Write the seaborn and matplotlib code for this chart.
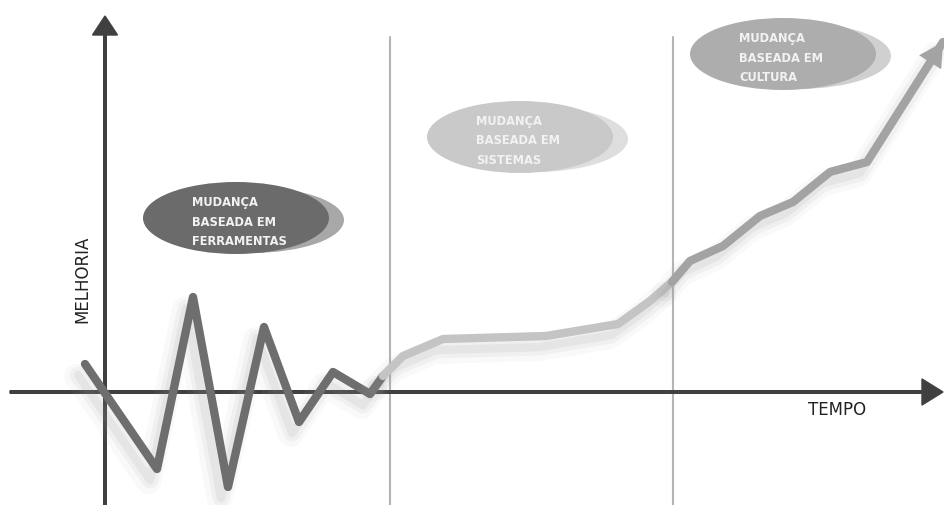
import matplotlib
matplotlib.use("Agg")
import matplotlib.pyplot as plt
import matplotlib.patheffects as pe
from matplotlib.patches import Ellipse
import seaborn as sns
import pandas as pd

# ---- data (time vs. improvement, origin at axes crossing) ----
ferramentas_t = [-20, 52, 88, 123, 159, 194, 228, 265, 278]
ferramentas_m = [28, -77, 95, -95, 65, -30, 20, -2, 16]

sistemas_t = [278, 298, 338, 441, 513, 545, 567]
sistemas_m = [16, 36, 53, 56, 68, 91, 110]

cultura_t = [567, 585, 618, 655, 688, 725, 762, 838]
cultura_m = [110, 131, 146, 176, 190, 220, 230, 350]

phase_bounds = [285, 568]

bubble_labels = ["MUDANÇA\nBASEADA EM\nFERRAMENTAS",
                 "MUDANÇA\nBASEADA EM\nSISTEMAS",
                 "MUDANÇA\nBASEADA EM\nCULTURA"]
bubble_t = [131, 415, 678]
bubble_m = [174, 255, 338]
bubble_colors = ["#6b6b6b", "#c9c9c9", "#adadad"]
bubble_back = ["#a8a8a8", "#dedede", "#d0d0d0"]

x_label = "TEMPO"
y_label = "MELHORIA"

# ---- figure ----
sns.set_theme(style="white")
plt.rcParams['font.family'] = ['DejaVu Sans']
fig = plt.figure(figsize=(9.45, 5.06), dpi=100)
ax = fig.add_axes([0, 0, 1, 1])
ax.set_xlim(-105, 840)
ax.set_ylim(-113, 393)
ax.axis("off")

axis_col = "#404040"

# phase separators
for b in phase_bounds:
    ax.plot([b, b], [-113, 355], color="#b4b4b4", lw=1.5, zorder=1)

# axes arrows
ax.arrow(-95, 0, 933, 0, width=2.6, head_width=26, head_length=21,
         length_includes_head=True, color=axis_col, zorder=2)
ax.arrow(0, -113, 0, 489, width=2.6, head_width=25, head_length=19,
         length_includes_head=True, color=axis_col, zorder=2)

def shadow():
    return [pe.SimpleLineShadow(offset=(-6, -9), shadow_color="#aaaaaa", alpha=0.07, linewidth=18),
            pe.SimpleLineShadow(offset=(-5, -8), shadow_color="#999999", alpha=0.09, linewidth=12),
            pe.SimpleLineShadow(offset=(-5, -8), shadow_color="#888888", alpha=0.10, linewidth=6),
            pe.Normal()]

series = [
    (ferramentas_t, ferramentas_m, "#6e6e6e"),
    (sistemas_t, sistemas_m, "#c4c4c4"),
    (cultura_t, cultura_m, "#a3a3a3"),
]
for t, m, c in series:
    df = pd.DataFrame({"t": t, "m": m})
    sns.lineplot(data=df, x="t", y="m", sort=False, estimator=None, ax=ax,
                 color=c, lw=6, solid_joinstyle="round", solid_capstyle="round",
                 path_effects=shadow(), zorder=4)

# arrow head on cultura line
x0, y0 = cultura_t[-2], cultura_m[-2]
x1, y1 = cultura_t[-1], cultura_m[-1]
ax.arrow(x0 + (x1 - x0) * 0.7, y0 + (y1 - y0) * 0.7,
         (x1 - x0) * 0.3, (y1 - y0) * 0.3, width=0.1, head_width=26,
         head_length=24, length_includes_head=True, color="#a3a3a3", lw=0, zorder=5)

# bubbles
for lab, bt, bm, c, cb in zip(bubble_labels, bubble_t, bubble_m, bubble_colors, bubble_back):
    ax.add_patch(Ellipse((bt + 15, bm - 2), 186, 66, color=cb, zorder=6, lw=0))
    ax.add_patch(Ellipse((bt, bm), 186, 72, color=c, zorder=7, lw=0))
    ax.text(bt - 44, bm - 3, lab, ha="left", va="center", fontsize=8.3,
            fontweight="bold", color="#f2f2f2", linespacing=1.65, zorder=8)

# axis labels
ax.text(-23, 114, y_label, rotation=90, ha="center", va="center",
        fontsize=12, color="#222222")
ax.text(732, -17, x_label, ha="center", va="center", fontsize=12,
        color="#222222")

fig.savefig("out.png", dpi=100, facecolor="white")
